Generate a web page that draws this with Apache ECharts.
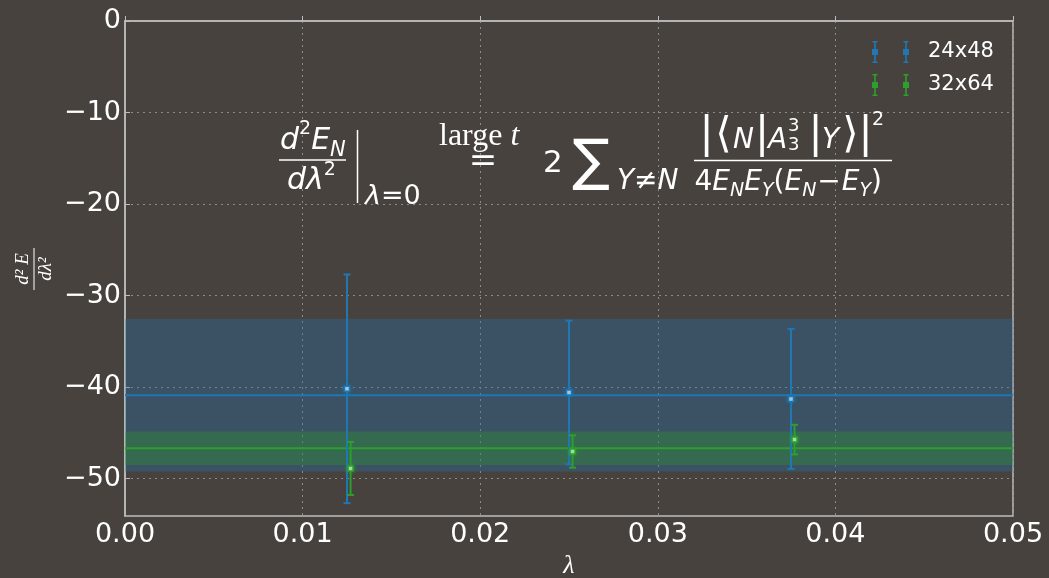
<!DOCTYPE html>
<html><head><meta charset="utf-8">
<script src="https://cdn.jsdelivr.net/npm/echarts@6/dist/echarts.min.js"></script>
<style>html,body{margin:0;padding:0;background:#47423d;} #c{width:1049px;height:578px;}</style>
</head><body><div id="c"></div>
<script>
// ---- data ----
const seriesNames = ['24x48', '32x64'];
const lambda24 = [0.0125, 0.0250, 0.0375];
const d2E24 = [-40.2, -40.6, -41.3];
const err24 = [12.5, 7.85, 7.65];
const lambda32 = [0.0127, 0.0252, 0.0377];
const d2E32 = [-48.9, -47.05, -45.75];
const err32 = [2.9, 1.77, 1.62];
const fit24 = -40.9, fitErr24 = 8.35;
const fit32 = -46.7, fitErr32 = 1.83;
const xTicks = [0, 0.01, 0.02, 0.03, 0.04, 0.05];
const yTicks = [-50, -40, -30, -20, -10, 0];

const BLUE = '#1f77b4', GREEN = '#2ca02c';

// ---- formula helpers ----
const ctx = document.createElement('canvas').getContext('2d');
function fam(o){ return o.fam || 'DejaVu Sans'; }
function meas(t, s, o){ ctx.font = (o.it ? 'italic ' : '') + s + 'px "' + fam(o) + '"'; return ctx.measureText(t).width; }
function txt(t, x, base, s, o){
  o = o || {};
  const k = o.k != null ? o.k : (o.fam === 'Liberation Serif' ? 0.305 : 0.297);
  return {type:'text', x:x, y: base - k*s, silent:true, z:100,
    style:{text:t, fill:'#fff', fontSize:s, fontFamily:fam(o), fontStyle:o.it?'italic':'normal',
      align:o.align||'left', verticalAlign:'middle'}};
}
function flow(x, base, pieces, out){
  pieces.forEach(p => {
    x += (p.pre||0);
    out.push(txt(p.t, x, base + (p.dy||0), p.s, p));
    x += meas(p.t, p.s, p) + (p.post||0);
  });
}
function hline(x1, x2, y, w){ return {type:'line', silent:true, z:100, shape:{x1:x1,y1:y,x2:x2,y2:y}, style:{stroke:'#fff', lineWidth:w||1.5}}; }
function vline(x, y1, y2, w){ return {type:'line', silent:true, z:100, shape:{x1:x,y1:y1,x2:x,y2:y2}, style:{stroke:'#fff', lineWidth:w||1.5}}; }

const G = [];
// left fraction
flow(280, 150, [{t:'d',s:30,it:1},{t:'2',s:19,dy:-15},{t:'E',s:30,it:1},{t:'N',s:21,it:1,dy:7}], G);
G.push(hline(279, 346, 160));
flow(287, 190, [{t:'d',s:30,it:1},{t:'λ',s:30,it:1},{t:'2',s:19,dy:-14}], G);
G.push(vline(357.5, 130, 203));
flow(365, 205, [{t:'λ',s:27,it:1},{t:'=',s:27},{t:'0',s:27}], G);
// "large t" over "="
flow(439, 146, [{t:'large ',s:32,fam:'Liberation Serif'},{t:'t',s:32,fam:'Liberation Serif',it:1}], G);
G.push(txt('=', 483, 162, 34, {k:0, align:'center'}));
// 2 sum
G.push(txt('2', 543, 173, 31));
G.push(txt('∑', 572, 181, 56));
flow(617, 190, [{t:'Y',s:28,it:1},{t:'≠',s:28},{t:'N',s:28,it:1}], G);
// right numerator
[[706.7,'|'],[723.5,'⟨'],[762,'|'],[815.7,'|'],[850.5,'⟩'],[865.5,'|']].forEach(d => G.push(txt(d[1], d[0], 136, 42, {k:0, align:'center'})));
G.push(txt('N', 733, 149, 28, {it:1}));
G.push(txt('A', 768, 149, 28, {it:1}));
G.push(txt('3', 788, 132, 18));
G.push(txt('3', 788, 151, 18));
G.push(txt('Y', 822, 149, 28, {it:1}));
G.push(txt('2', 872, 126, 19));
G.push(hline(694, 892, 160.5));
// right denominator
flow(694.5, 191, [
  {t:'4',s:28},{t:'E',s:28,it:1},{t:'N',s:19,it:1,dy:6},{t:'E',s:28,it:1},{t:'Y',s:19,it:1,dy:6},
  {t:'(',s:28},{t:'E',s:28,it:1},{t:'N',s:19,it:1,dy:6},{t:'−',s:28,pre:1,post:1},{t:'E',s:28,it:1},{t:'Y',s:19,it:1,dy:6},{t:')',s:28}
], G);

// y-axis label (rotated fraction)
G.push({type:'group', x:34, y:269, rotation:Math.PI/2, silent:true, children:[
  {type:'text', x:0, y:-2, style:{text:'d² E', fill:'#fff', fontSize:19, fontFamily:'Liberation Serif', fontStyle:'italic', align:'center', verticalAlign:'bottom'}},
  {type:'line', shape:{x1:-21,y1:0,x2:21,y2:0}, style:{stroke:'#fff', lineWidth:1}},
  {type:'text', x:0, y:2, style:{text:'dλ²', fill:'#fff', fontSize:19, fontFamily:'Liberation Serif', fontStyle:'italic', align:'center', verticalAlign:'top'}}
]});

// ---- error bar renderer ----
function errRender(params, api){
  const x = api.value(0), y = api.value(1), e = api.value(2);
  const c = api.coord([x, y]), t = api.coord([x, y + e]), b = api.coord([x, y - e]);
  const col = api.visual('color');
  const w = 3.5;
  return {type:'group', children:[
    {type:'line', shape:{x1:c[0],y1:t[1],x2:c[0],y2:b[1]}, style:{stroke:col, lineWidth:2}},
    {type:'line', shape:{x1:c[0]-w,y1:t[1],x2:c[0]+w,y2:t[1]}, style:{stroke:col, lineWidth:2}},
    {type:'line', shape:{x1:c[0]-w,y1:b[1],x2:c[0]+w,y2:b[1]}, style:{stroke:col, lineWidth:2}},
    {type:'rect', shape:{x:c[0]-2.5,y:c[1]-2.5,width:5,height:5}, style:{fill:'#fff', stroke:col, lineWidth:1.5, shadowBlur:4, shadowColor:col}}
  ]};
}

const legendIcon = 'path://M0.5,0 H5.5 V1.5 H3.8 V20.5 H5.5 V22 H0.5 V20.5 H2.2 V1.5 H0.5 Z M0,8 H6 V14 H0 Z ' +
  'M31.5,0 H36.5 V1.5 H34.8 V20.5 H36.5 V22 H31.5 V20.5 H33.2 V1.5 H31.5 Z M31,8 H37 V14 H31 Z';

const chart = echarts.init(document.getElementById('c'), null, {renderer:'canvas'});
chart.setOption({
  backgroundColor:'#47423d',
  animation:false,
  textStyle:{fontFamily:'DejaVu Sans'},
  grid:{left:125, right:36, top:21, bottom:62, outerBoundsMode:'none', containLabel:false, show:true, borderColor:'#bdbdbd', borderWidth:1.5, backgroundColor:'transparent'},
  legend:{
    orient:'vertical', left:867, top:36, itemGap:11, itemWidth:37, itemHeight:22,
    data: seriesNames.map(n => ({name:n, icon:legendIcon})),
    textStyle:{color:'#fff', fontSize:21, fontFamily:'DejaVu Sans', padding:[0,0,0,14]}
  },
  xAxis:{
    type:'value', min:xTicks[0], max:xTicks[xTicks.length-1], interval:0.01,
    name:'λ', nameLocation:'middle', nameGap:34,
    nameTextStyle:{color:'#fff', fontSize:26, fontFamily:'Liberation Serif', fontStyle:'italic'},
    axisLine:{show:true, lineStyle:{color:'#bdbdbd', width:1.5}},
    axisTick:{show:true, inside:true, length:5, lineStyle:{color:'#bdbdbd'}},
    axisLabel:{color:'#fff', fontSize:27, margin:5, fontFamily:'DejaVu Sans', formatter:v => v.toFixed(2)},
    splitLine:{show:true, lineStyle:{color:'#8f8a85', type:[2,4], width:1}}
  },
  yAxis:{
    type:'value', min:-54.1, max:0,
    axisLine:{show:true, lineStyle:{color:'#bdbdbd', width:1.5}},
    axisTick:{show:true, inside:true, length:5, lineStyle:{color:'#bdbdbd'}, customValues:yTicks},
    axisLabel:{color:'#fff', fontSize:27, margin:4, fontFamily:'DejaVu Sans', customValues:yTicks,
      formatter:v => v < 0 ? '\u2212' + Math.abs(v) : String(v)},
    splitLine:{show:true, lineStyle:{color:'#8f8a85', type:[2,4], width:1}}
  },
  graphic:G,
  series:[
    {name:'fit ' + seriesNames[0], type:'line', z:1, data:[[xTicks[0], fit24],[xTicks[5], fit24]], symbol:'none',
      lineStyle:{color:BLUE, width:2}, itemStyle:{color:BLUE},
      markArea:{silent:true, itemStyle:{color:'rgba(31,119,180,0.32)'}, data:[[{yAxis:fit24 + fitErr24},{yAxis:fit24 - fitErr24}]]}},
    {name:'fit ' + seriesNames[1], type:'line', z:2, data:[[xTicks[0], fit32],[xTicks[5], fit32]], symbol:'none',
      lineStyle:{color:GREEN, width:2}, itemStyle:{color:GREEN},
      markArea:{silent:true, itemStyle:{color:'rgba(44,160,44,0.32)'}, data:[[{yAxis:fit32 + fitErr32},{yAxis:fit32 - fitErr32}]]}},
    {name:seriesNames[0], type:'custom', z:5, renderItem:errRender, itemStyle:{color:BLUE},
      encode:{x:0, y:1}, data:lambda24.map((x,i) => [x, d2E24[i], err24[i]])},
    {name:seriesNames[1], type:'custom', z:6, renderItem:errRender, itemStyle:{color:GREEN},
      encode:{x:0, y:1}, data:lambda32.map((x,i) => [x, d2E32[i], err32[i]])}
  ]
});
</script></body></html>
